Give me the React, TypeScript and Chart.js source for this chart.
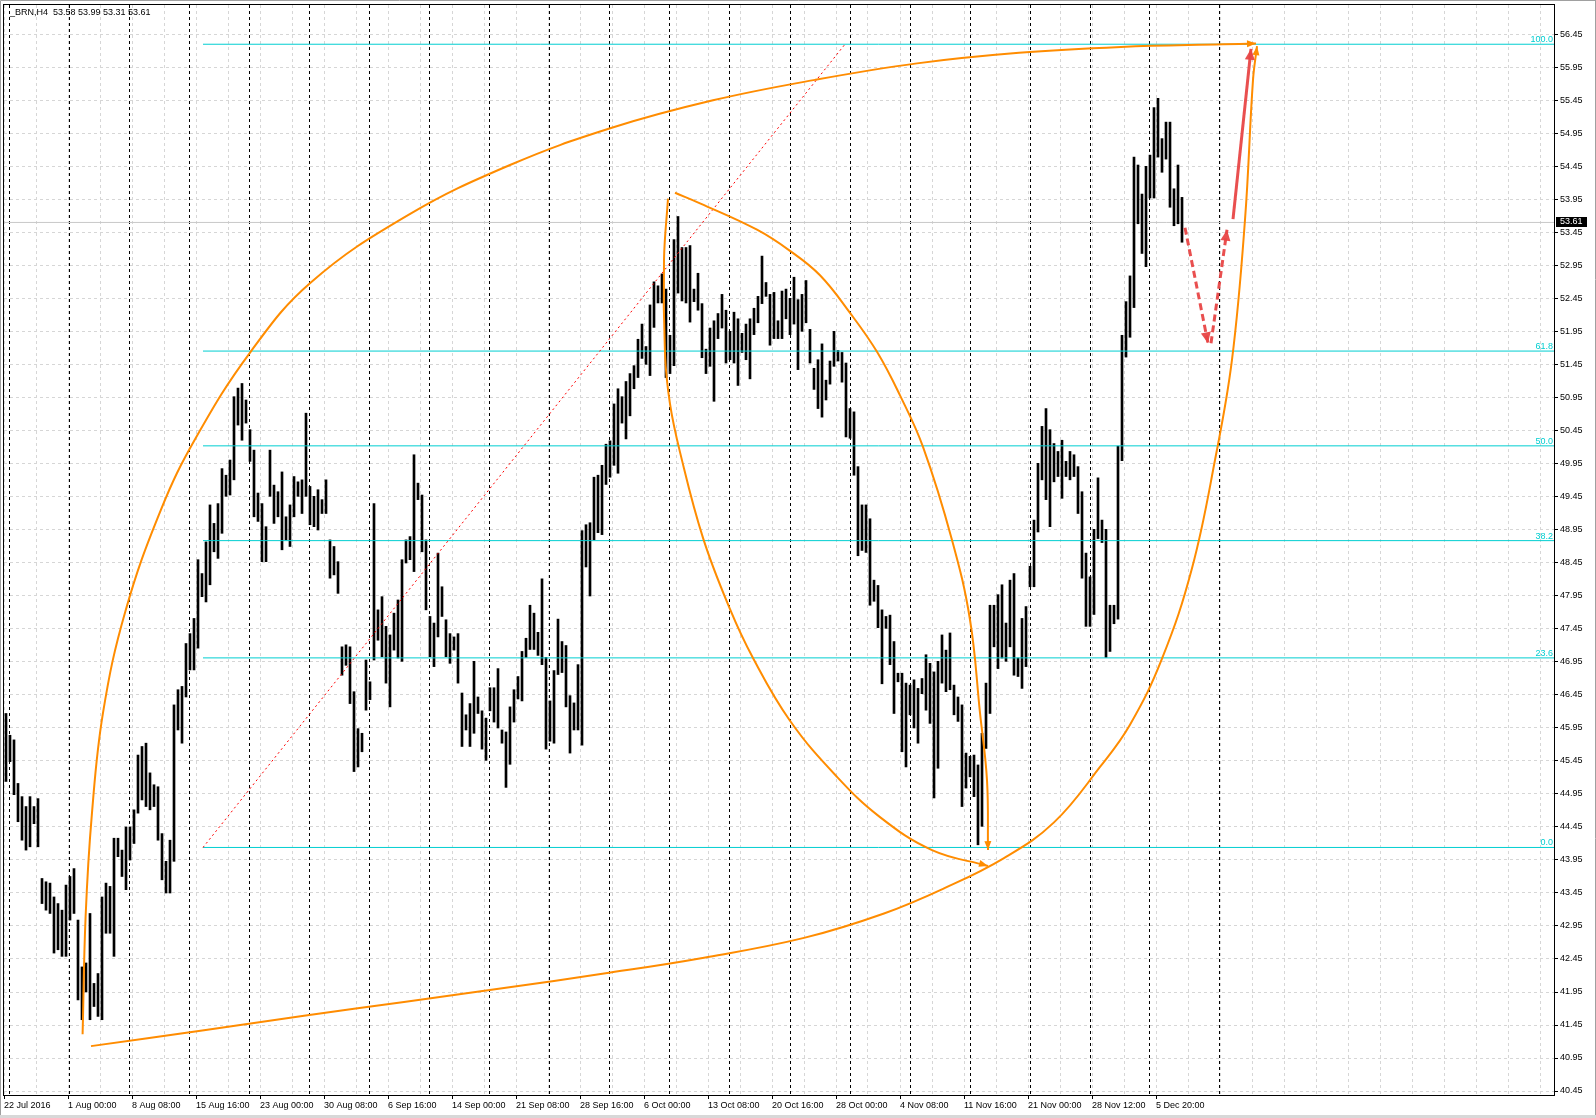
import React, { useEffect, useRef } from 'react';
import { Chart, registerables } from 'chart.js';

Chart.register(...registerables);

// ---------- data ----------
const HEADER_TEXT = '_BRN,H4  53.58 53.99 53.31 53.61';
const LAST_PRICE = 53.61;

// one drawn bar = two H4 bars; bar i sits at H4 position 1 + 2*i
const HIGHS = [
  46.17, 45.84, 45.77, 45.11, 44.91, 44.76, 44.91, 44.76, 44.88, 43.67,
  43.62, 43.60, 43.39, 43.29, 43.19, 43.57, 43.70, 43.82, 43.04, 42.33,
  42.39, 43.14, 42.08, 42.23, 43.39, 43.60, 43.55, 44.28, 44.28, 44.10,
  44.45, 44.45, 44.71, 45.54, 45.67, 45.72, 45.27, 45.09, 45.06, 44.35,
  43.93, 44.25, 46.30, 46.53, 46.58, 47.23, 47.38, 47.61, 48.50, 48.29,
  48.77, 49.33, 49.05, 49.35, 49.88, 49.78, 50.01, 50.97, 51.10, 51.17,
  50.92, 50.47, 50.16, 49.51, 49.35, 49.00, 50.16, 49.63, 49.53, 49.83,
  49.15, 49.33, 49.76, 49.68, 49.71, 50.72, 49.61, 49.46, 49.56, 49.41,
  49.71, 48.80, 48.70, 48.47, 47.18, 47.21, 47.18, 46.50, 45.94, 45.87,
  46.98, 46.65, 49.35, 47.74, 47.94, 47.49, 47.36, 47.69, 47.89, 48.50,
  48.80, 48.85, 50.09, 49.66, 49.48, 48.80, 47.64, 47.54, 48.60, 48.09,
  47.59, 47.38, 47.33, 47.38, 46.48, 46.15, 46.32, 46.96, 46.42, 46.21,
  46.10, 46.56, 46.56, 46.85, 45.92, 45.89, 46.27, 46.53, 46.73, 47.11,
  47.31, 47.81, 47.69, 47.40, 48.21, 47.02, 46.36, 46.82, 47.60, 47.26,
  47.20, 46.44, 46.33, 46.91, 48.94, 49.03, 49.06, 49.75, 49.78, 49.93,
  50.25, 50.30, 50.86, 51.09, 50.97, 51.20, 51.32, 51.44, 51.84, 52.07,
  51.73, 52.36, 52.71, 52.65, 52.83, 52.60, 51.90, 53.35, 53.70, 53.23,
  53.23, 53.26, 52.60, 52.84, 52.38, 51.69, 52.01, 52.12, 52.23, 52.52,
  52.28, 51.96, 52.25, 52.15, 51.93, 52.07, 52.15, 52.31, 52.49, 53.10,
  52.70, 52.52, 52.55, 52.12, 52.57, 52.60, 52.46, 52.78, 52.44, 52.52,
  52.73, 51.99, 51.40, 51.53, 51.77, 51.22, 51.51, 51.96, 51.67, 51.64,
  51.48, 50.79, 50.74, 49.91, 49.33, 49.33, 49.12, 48.19, 48.11, 47.74,
  47.64, 47.66, 47.26, 46.78, 46.78, 46.63, 46.60, 46.68, 46.55, 46.70,
  47.06, 46.93, 46.80, 46.96, 47.36, 47.13, 47.39, 46.60, 46.42, 46.30,
  45.57, 45.52, 45.54, 45.39, 45.87, 46.63, 47.81, 47.81, 47.97, 48.12,
  47.54, 48.19, 48.29, 47.01, 47.61, 47.79, 48.40, 49.10, 49.96, 50.52,
  50.79, 50.47, 50.26, 50.14, 50.31, 49.99, 50.14, 50.09, 49.91, 49.53,
  48.60, 48.24, 48.96, 49.74, 49.10, 48.96, 47.81, 47.81, 50.22, 51.90,
  52.41, 52.80, 54.60, 54.48, 54.04, 54.46, 54.63, 55.35, 55.49, 54.88,
  55.13, 55.13, 54.12, 54.48, 53.99,
];

const LOWS = [
  45.14, 45.44, 44.94, 44.53, 44.25, 44.10, 44.15, 44.50, 44.15, 43.29,
  43.19, 43.14, 42.54, 42.59, 42.49, 42.49, 43.04, 43.14, 41.83, 41.53,
  41.95, 41.53, 41.73, 41.58, 41.53, 42.84, 42.84, 42.49, 44.00, 43.70,
  43.50, 43.95, 44.20, 44.66, 44.86, 44.76, 44.71, 44.76, 44.25, 43.65,
  43.45, 43.45, 43.93, 45.92, 45.72, 46.42, 46.83, 46.83, 47.16, 47.94,
  47.86, 48.12, 48.62, 48.52, 48.90, 49.46, 49.48, 49.71, 50.54, 50.31,
  50.57, 49.99, 49.15, 49.08, 48.47, 48.47, 49.46, 49.05, 49.15, 48.65,
  48.80, 48.70, 49.15, 49.46, 49.20, 49.46, 49.03, 49.00, 48.95, 49.20,
  49.20, 48.22, 48.27, 47.99, 46.75, 46.90, 46.32, 45.29, 45.36, 45.59,
  46.22, 46.38, 46.98, 47.28, 47.03, 46.63, 46.27, 47.13, 47.01, 46.96,
  48.45, 48.50, 48.32, 49.41, 48.62, 47.74, 47.03, 46.88, 47.33, 47.64,
  47.03, 46.93, 47.13, 46.63, 45.67, 45.92, 45.67, 45.87, 46.17, 45.63,
  45.46, 46.21, 46.04, 45.95, 45.72, 45.05, 45.40, 46.04, 46.39, 46.36,
  47.02, 47.14, 47.14, 47.05, 46.91, 45.63, 45.75, 45.72, 46.76, 46.79,
  46.27, 45.57, 45.92, 45.92, 45.69, 48.39, 47.95, 48.80, 48.91, 48.88,
  49.64, 49.75, 49.93, 49.81, 50.57, 50.33, 50.68, 51.09, 51.26, 51.55,
  51.46, 51.29, 52.02, 52.39, 52.39, 51.26, 51.32, 51.44, 52.54, 52.42,
  52.39, 52.10, 52.41, 52.28, 51.56, 51.32, 51.43, 50.90, 51.85, 52.01,
  51.48, 51.53, 51.48, 51.14, 51.64, 51.53, 51.24, 51.91, 52.09, 52.38,
  52.49, 51.75, 51.85, 51.85, 51.85, 52.15, 51.91, 52.07, 51.38, 51.96,
  52.09, 51.48, 51.08, 50.79, 50.66, 50.92, 51.16, 51.43, 51.51, 51.19,
  50.36, 50.34, 49.78, 48.56, 48.64, 48.61, 47.81, 47.87, 47.47, 46.62,
  47.46, 46.91, 46.17, 46.65, 45.59, 45.36, 46.15, 45.95, 45.72, 46.47,
  46.22, 46.02, 44.89, 45.34, 46.63, 46.50, 46.53, 46.15, 46.05, 44.76,
  45.04, 45.21, 44.91, 44.18, 44.46, 45.64, 46.17, 47.18, 46.85, 47.01,
  46.96, 47.18, 46.75, 46.73, 46.55, 46.88, 48.09, 48.09, 48.92, 49.71,
  49.41, 49.00, 49.68, 49.76, 49.43, 49.76, 49.71, 49.76, 49.20, 48.22,
  47.49, 47.49, 47.67, 48.82, 48.76, 47.02, 47.11, 47.53, 47.60, 50.00,
  51.57, 51.87, 52.32, 53.59, 53.14, 52.94, 53.98, 53.98, 54.60, 54.37,
  54.57, 53.84, 53.56, 53.59, 53.31,
];

// time-axis labels, one every 32 H4 bars
const TIME_LABELS = [
  '22 Jul 2016', '1 Aug 00:00', '8 Aug 08:00', '15 Aug 16:00', '23 Aug 00:00',
  '30 Aug 08:00', '6 Sep 16:00', '14 Sep 00:00', '21 Sep 08:00', '28 Sep 16:00',
  '6 Oct 00:00', '13 Oct 08:00', '20 Oct 16:00', '28 Oct 00:00', '4 Nov 08:00',
  '11 Nov 16:00', '21 Nov 00:00', '28 Nov 12:00', '5 Dec 20:00',
];

const PRICE_TICKS = [
  40.45, 40.95, 41.45, 41.95, 42.45, 42.95, 43.45, 43.95, 44.45, 44.95,
  45.45, 45.95, 46.45, 46.95, 47.45, 47.95, 48.45, 48.95, 49.45, 49.95,
  50.45, 50.95, 51.45, 51.95, 52.45, 52.95, 53.45, 53.95, 54.45, 54.95,
  55.45, 55.95, 56.45,
];

// weekly period separators (H4 bar positions)
const SEPARATOR_BARS = [
  2.5, 32.5, 62.5, 92.5, 122.5, 152.5, 182.5, 212.5, 242.5, 272.5,
  302.5, 332.5, 362.5, 393, 423, 453, 483, 513, 543, 572.5, 607.5,
];

// Fibonacci retracement
const FIB_LEVELS = [0, 23.6, 38.2, 50, 61.8, 100];
const FIB_LOW = 44.14;
const FIB_HIGH = 56.31;
const FIB_START_BAR = 99.5;
const FIB_BASELINE = [[99.5, 44.14], [420.5, 56.31]];

// hand-drawn curves: [H4 bar position, price]
const ARC_OUTER = [
  [39.3, 41.31], [40.8, 43.09], [43.9, 44.63], [49.5, 46.18], [60.7, 47.72], [78.5, 49.26],
  [95.8, 50.34], [123.3, 51.65], [153.4, 52.70], [202, 53.72], [253, 54.48],
  [303.5, 55.04], [354.5, 55.46], [405.5, 55.77], [456.5, 56.02], [507.5, 56.18],
  [558.5, 56.27], [609.5, 56.31], [626, 56.32],
];
const ARC_LOWER = [
  [43.5, 41.13], [100, 41.37], [150, 41.59], [200, 41.80], [250, 42.01], [300, 42.23],
  [350, 42.47], [400, 42.77], [440, 43.14], [470, 43.52], [500, 43.98], [525, 44.52],
  [548, 45.36], [563, 46.00], [579, 47.00], [594, 48.37], [605.5, 50.01], [614, 51.53],
  [620.5, 53.65], [624.5, 55.77], [626.5, 56.28],
];
const ARC_INNER_LEFT = [
  [332, 53.97], [330, 53.04], [330.5, 51.62], [333, 50.86], [338, 50.13], [349.5, 48.83],
  [363, 47.75], [374.5, 47.01], [393, 46.06], [416.5, 45.21], [438, 44.60], [464, 44.10],
  [492, 43.86],
];
const ARC_INNER_RIGHT = [
  [335.5, 54.06], [348, 53.90], [376.5, 53.50], [393, 53.18], [408, 52.81], [423, 52.24],
  [436.5, 51.65], [448, 50.99], [459.5, 50.21], [474, 48.80], [483, 47.59], [488, 46.18],
  [491.5, 45.16], [492, 44.10],
];
const RED_DOWN = [[590.5, 53.53], [602, 51.78]];
const RED_UP = [[603.5, 51.78], [611.5, 53.5]];
const RED_SOLID = [[614.5, 53.66], [623.5, 56.24]];

// axis ranges
const X_MIN = 0;
const X_MAX = 775;
const Y_MIN = 40.3894;
const Y_MAX = 56.9045;
const GRID_EVERY = 16;

// ---------- styles ----------
const FONT = 'Liberation Sans';
const ORANGE = '#FF8C00';
const CYAN = '#00CED1';
const RED = 'rgba(232,70,70,0.95)';

const pts = (arr: number[][]) => arr.map(([x, y]) => ({ x, y }));

function drawHead(ctx: CanvasRenderingContext2D, x1: number, y1: number, x2: number, y2: number, len: number, half: number, color: string) {
  const a = Math.atan2(y2 - y1, x2 - x1);
  const c = Math.cos(a), s = Math.sin(a);
  ctx.save();
  ctx.fillStyle = color;
  ctx.beginPath();
  ctx.moveTo(x2, y2);
  ctx.lineTo(x2 - len * c + half * s, y2 - len * s - half * c);
  ctx.lineTo(x2 - len * c - half * s, y2 - len * s + half * c);
  ctx.closePath();
  ctx.fill();
  ctx.restore();
}

const overlayPlugin = {
  id: 'mt4overlay',
  beforeDatasetsDraw(chart: any) {
    const { ctx, chartArea: a, scales } = chart;
    ctx.save();
    ctx.strokeStyle = '#000';
    ctx.lineWidth = 1;
    ctx.setLineDash([3, 3]);
    for (const b of SEPARATOR_BARS) {
      const px = Math.round(scales.x.getPixelForValue(b)) + 0.5;
      ctx.beginPath();
      ctx.moveTo(px, a.top);
      ctx.lineTo(px, a.bottom);
      ctx.stroke();
    }
    ctx.restore();
  },
  afterDatasetsDraw(chart: any) {
    const { ctx, chartArea: a, scales } = chart;
    const X = (v: number) => scales.x.getPixelForValue(v);
    const Y = (v: number) => scales.y.getPixelForValue(v);
    const head = (arr: number[][], len: number, half: number, color: string) => {
      const p1 = arr[arr.length - 2];
      const p2 = arr[arr.length - 1];
      drawHead(ctx, X(p1[0]), Y(p1[1]), X(p2[0]), Y(p2[1]), len, half, color);
    };
    head(ARC_OUTER, 9, 3.5, ORANGE);
    head(ARC_LOWER, 9, 3.5, ORANGE);
    head(ARC_INNER_LEFT, 9, 3.5, ORANGE);
    head(ARC_INNER_RIGHT, 9, 3.5, ORANGE);
    head(RED_DOWN, 11, 5, RED);
    head(RED_UP, 11, 5, RED);
    head(RED_SOLID, 11, 5, RED);

    ctx.save();
    ctx.font = `9px "${FONT}"`;
    ctx.fillStyle = CYAN;
    ctx.textAlign = 'right';
    ctx.textBaseline = 'alphabetic';
    for (const lvl of FIB_LEVELS) {
      const price = FIB_LOW + (lvl / 100) * (FIB_HIGH - FIB_LOW);
      ctx.fillText(lvl.toFixed(1), a.right - 1, Y(price) - 2);
    }
    ctx.restore();
  },
  afterDraw(chart: any) {
    const { ctx, chartArea: a, scales, width, height } = chart;
    ctx.save();
    ctx.strokeStyle = '#000';
    ctx.lineWidth = 1;
    ctx.setLineDash([]);
    ctx.strokeRect(a.left - 0.5, a.top - 0.5, a.right - a.left + 1, a.bottom - a.top + 1);
    ctx.strokeStyle = '#a0a0a0';
    ctx.beginPath();
    ctx.moveTo(0.5, height); ctx.lineTo(0.5, 0.5); ctx.lineTo(width, 0.5);
    ctx.moveTo(width - 0.5, 0); ctx.lineTo(width - 0.5, height);
    ctx.stroke();
    ctx.fillStyle = '#d8d8d8';
    ctx.fillRect(0, height - 3, width, 3);
    ctx.fillStyle = '#000';
    ctx.font = `9px "${FONT}"`;
    ctx.textAlign = 'left';
    ctx.textBaseline = 'alphabetic';
    ctx.fillText(HEADER_TEXT, 10, 15);
    const py = scales.y.getPixelForValue(LAST_PRICE);
    ctx.fillStyle = '#000';
    ctx.fillRect(a.right + 2, Math.round(py) - 5, 31, 10);
    ctx.fillStyle = '#fff';
    ctx.textBaseline = 'middle';
    ctx.fillText(LAST_PRICE.toFixed(2), a.right + 6, Math.round(py));
    ctx.restore();
  },
};

export default function App() {
  const ref = useRef<HTMLCanvasElement | null>(null);

  useEffect(() => {
    document.body.style.margin = '0';
    const canvas = ref.current;
    if (!canvas) return;

    const bars = HIGHS.map((h, i) => ({ x: 1 + 2 * i, y: [LOWS[i], h] }));
    const fibSets = FIB_LEVELS.map((lvl) => {
      const price = FIB_LOW + (lvl / 100) * (FIB_HIGH - FIB_LOW);
      return {
        type: 'line',
        data: [{ x: FIB_START_BAR, y: price }, { x: X_MAX, y: price }],
        borderColor: CYAN,
        borderWidth: 1,
        pointRadius: 0,
        tension: 0,
        fill: false,
        order: 4,
      };
    });
    const curve = (arr: number[][], color: string, width: number, dash: number[], order: number, tension = 0.4) => ({
      type: 'line',
      data: pts(arr),
      borderColor: color,
      borderWidth: width,
      borderDash: dash,
      pointRadius: 0,
      tension,
      fill: false,
      order,
    });

    const xGrid: number[] = [];
    for (let b = X_MIN; b <= X_MAX; b += GRID_EVERY) xGrid.push(b);

    const chart = new Chart(canvas, {
      type: 'bar',
      data: {
        datasets: [
          {
            type: 'line',
            data: [{ x: X_MIN, y: LAST_PRICE }, { x: X_MAX, y: LAST_PRICE }],
            borderColor: '#c8c8c8',
            borderWidth: 1,
            pointRadius: 0,
            fill: false,
            order: 9,
          },
          {
            type: 'bar',
            data: bars,
            backgroundColor: '#000',
            borderWidth: 0,
            barThickness: 2,
            grouped: false,
            order: 6,
          },
          ...fibSets,
          curve(FIB_BASELINE, '#ff0000', 1, [2, 3], 3, 0),
          curve(ARC_OUTER, ORANGE, 2, [], 2),
          curve(ARC_LOWER, ORANGE, 2, [], 2),
          curve(ARC_INNER_LEFT, ORANGE, 2, [], 2),
          curve(ARC_INNER_RIGHT, ORANGE, 2, [], 2),
          curve(RED_DOWN, RED, 3, [7, 4], 1, 0),
          curve(RED_UP, RED, 3, [7, 4], 1, 0),
          curve(RED_SOLID, RED, 3, [], 1, 0),
        ] as any,
      },
      options: {
        animation: false,
        responsive: false,
        devicePixelRatio: 1,
        events: [],
        layout: { padding: { left: 4, top: 5, right: 0, bottom: 0 } },
        plugins: { legend: { display: false }, tooltip: { enabled: false } },
        scales: {
          x: {
            type: 'linear',
            position: 'bottom',
            min: X_MIN,
            max: X_MAX,
            bounds: 'data',
            offset: false,
            afterBuildTicks: (s: any) => { s.ticks = xGrid.map((v) => ({ value: v })); },
            afterFit: (s: any) => { s.height = 23; s.paddingLeft = 0; s.paddingRight = 0; s.paddingTop = 0; s.paddingBottom = 0; },
            grid: {
              offset: false,
              color: '#d6d6d6',
              lineWidth: 1,
              drawTicks: true,
              tickLength: 4,
              tickWidth: 1,
              tickBorderDash: [],
              tickColor: (c: any) => (c.index % 2 === 0 && c.index / 2 < TIME_LABELS.length ? '#000' : 'rgba(0,0,0,0)'),
            },
            border: { display: false, dash: [3, 3] },
            ticks: {
              autoSkip: false,
              maxRotation: 0,
              minRotation: 0,
              align: 'start',
              padding: 1,
              color: '#000',
              font: { family: FONT, size: 9 },
              callback: (_v: any, i: number) => (i % 2 === 0 && i / 2 < TIME_LABELS.length ? TIME_LABELS[i / 2] : ''),
            },
          },
          y: {
            type: 'linear',
            position: 'right',
            min: Y_MIN,
            max: Y_MAX,
            bounds: 'data',
            beginAtZero: false,
            afterBuildTicks: (s: any) => { s.ticks = PRICE_TICKS.map((v) => ({ value: v })); },
            afterFit: (s: any) => { s.width = 42; s.paddingLeft = 0; s.paddingRight = 0; s.paddingTop = 0; s.paddingBottom = 0; },
            grid: {
              color: '#d6d6d6',
              lineWidth: 1,
              drawTicks: true,
              tickLength: 4,
              tickWidth: 1,
              tickColor: '#000',
              tickBorderDash: [],
            },
            border: { display: false, dash: [3, 3] },
            ticks: {
              autoSkip: false,
              padding: 2,
              color: '#000',
              font: { family: FONT, size: 9 },
              callback: (v: any) => Number(v).toFixed(2),
            },
          },
        },
      } as any,
      plugins: [overlayPlugin],
    } as any);

    return () => chart.destroy();
  }, []);

  return (
    <canvas
      ref={ref}
      width={1596}
      height={1118}
      style={{ display: 'block', width: 1596, height: 1118 }}
    />
  );
}
